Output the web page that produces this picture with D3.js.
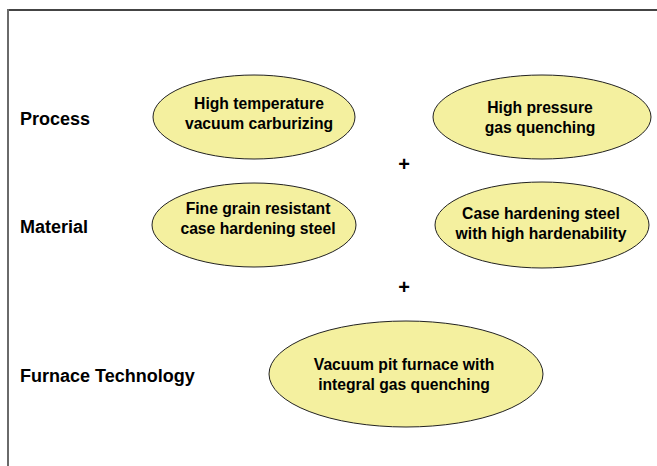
<!DOCTYPE html>
<html>
<head>
<meta charset="utf-8">
<script src="https://cdn.jsdelivr.net/npm/d3@7"></script>
<style>
  html, body { margin: 0; padding: 0; background: #fff; }
  svg { display: block; }
  text { font-family: "Liberation Sans", Arial, sans-serif; font-weight: bold; fill: #000; }
</style>
</head>
<body>
<svg></svg>
<script>
var width = 657;
var height = 466;

// rows of the diagram
var rows = ["Process", "Material", "Furnace Technology"];

// columns where the ellipses sit
var columns = ["left", "center", "right"];

// ellipse labels, by row and column
var boxRows = ["Process", "Process", "Material", "Material", "Furnace Technology"];
var boxCols = ["left", "right", "left", "right", "center"];
var boxLines = [
    ["High temperature", "vacuum carburizing"],
    ["High pressure", "gas quenching"],
    ["Fine grain resistant", "case hardening steel"],
    ["Case hardening steel", "with high hardenability"],
    ["Vacuum pit furnace with", "integral gas quenching"]
];

// "+" signs between the rows
var plusRows = ["Process", "Material"];

// layout per ellipse: radii and text offset from centre
var boxLayout = [
    { rx: 101, ry: 42, dx: 5, dy: -8 },
    { rx: 109, ry: 42, dx: -2, dy: -4 },
    { rx: 102, ry: 42, dx: 4, dy: -11 },
    { rx: 107, ry: 43, dx: -1, dy: -6 },
    { rx: 137, ry: 53, dx: -2, dy: -4 }
];

var svg = d3.select("svg")
    .attr("width", width)
    .attr("height", height);

var y = d3.scaleOrdinal()
    .domain(rows)
    .range([117, 225, 374]);

var x = d3.scaleOrdinal()
    .domain(columns)
    .range([254, 406, 542]);

// frame (only the top and left edges are in view)
svg.append("line")
    .attr("x1", 8).attr("x2", width)
    .attr("y1", 10).attr("y2", 10)
    .attr("stroke", "#444")
    .attr("stroke-width", 2);
svg.append("line")
    .attr("x1", 8).attr("x2", 8)
    .attr("y1", 9).attr("y2", height)
    .attr("stroke", "#6a6a6a")
    .attr("stroke-width", 2);

// row labels
svg.append("g").selectAll("text")
    .data(rows)
    .enter().append("text")
    .attr("x", 20)
    .attr("y", function (d) { return y(d) + 8; })
    .style("font-size", "18px")
    .text(function (d) { return d; });

// ellipses
var boxes = svg.append("g").selectAll("g")
    .data(boxLines.map(function (lines, i) {
        return { row: boxRows[i], col: boxCols[i], lines: lines, layout: boxLayout[i] };
    }))
    .enter().append("g")
    .attr("transform", function (d) {
        return "translate(" + x(d.col) + "," + y(d.row) + ")";
    });

boxes.append("ellipse")
    .attr("rx", function (d) { return d.layout.rx; })
    .attr("ry", function (d) { return d.layout.ry; })
    .attr("fill", "#f4f09f")
    .attr("stroke", "#222")
    .attr("stroke-width", 1);

boxes.each(function (d) {
    var g = d3.select(this);
    d.lines.forEach(function (line, k) {
        g.append("text")
            .attr("x", d.layout.dx)
            .attr("y", d.layout.dy + k * 20)
            .attr("text-anchor", "middle")
            .style("font-size", "15.7px")
            .text(line);
    });
});

// plus signs between rows
svg.append("g").selectAll("text")
    .data(plusRows)
    .enter().append("text")
    .attr("x", x("center") - 2)
    .attr("y", function (d, i) { return i === 0 ? 171 : 294; })
    .attr("text-anchor", "middle")
    .style("font-size", "20px")
    .text("+");
</script>
</body>
</html>
